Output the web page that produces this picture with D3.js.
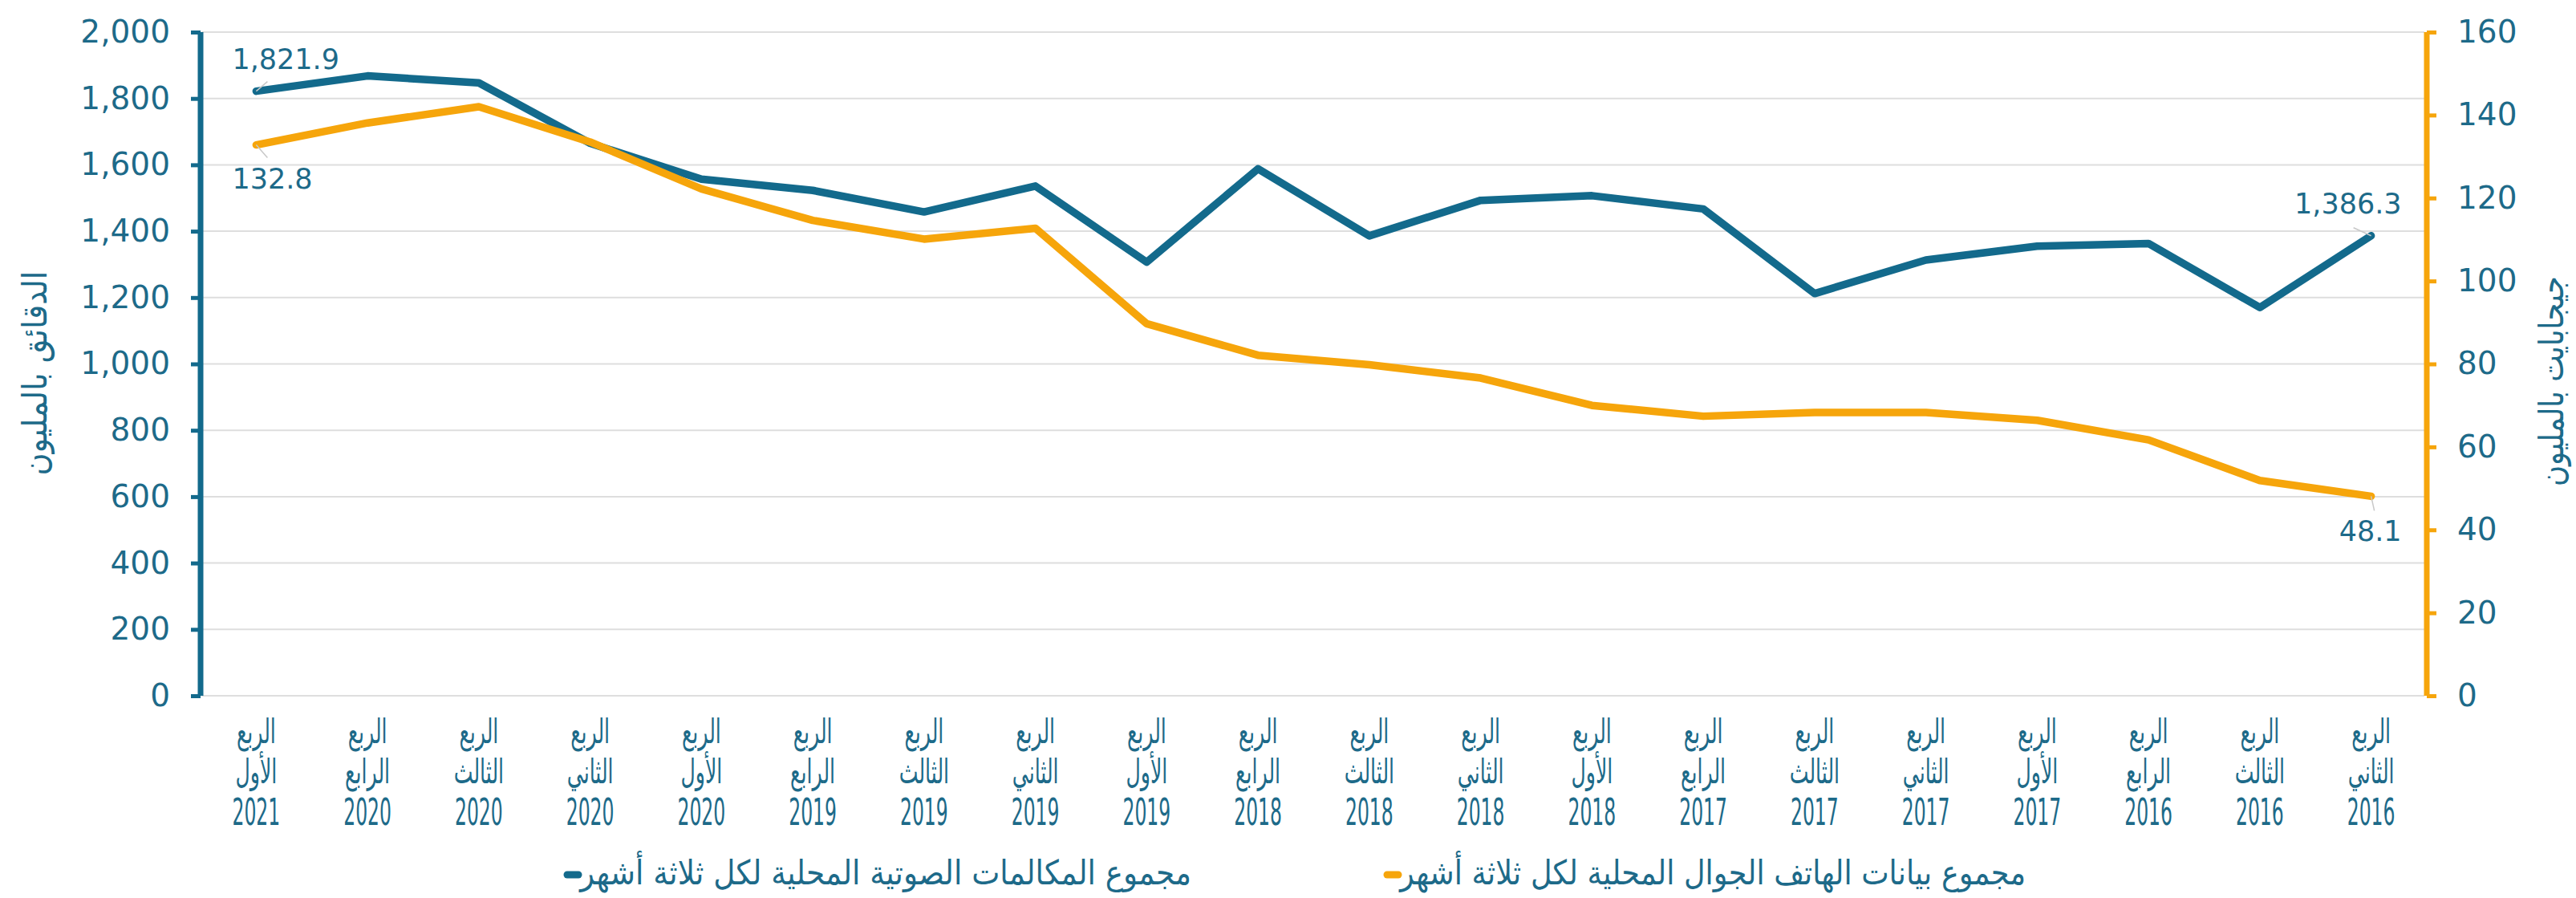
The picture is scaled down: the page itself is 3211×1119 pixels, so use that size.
<!DOCTYPE html>
<html>
<head>
<meta charset="utf-8">
<script src="https://cdn.jsdelivr.net/npm/d3@7"></script>
<style>
  body { margin: 0; background: #fff; }
  text { font-family: "DejaVu Sans", sans-serif; fill: #1d6a89; }
</style>
</head>
<body>
<div id="container"></div>
<script>
// البيانات
var quarterNames = ["الأول", "الرابع", "الثالث", "الثاني", "الأول", "الرابع", "الثالث", "الثاني", "الأول", "الرابع",
  "الثالث", "الثاني", "الأول", "الرابع", "الثالث", "الثاني", "الأول", "الرابع", "الثالث", "الثاني"];
var years = ["2021", "2020", "2020", "2020", "2020", "2019", "2019", "2019", "2019", "2018",
  "2018", "2018", "2018", "2017", "2017", "2017", "2017", "2016", "2016", "2016"];
var voiceMinutes = [1821.9, 1868, 1847, 1665, 1557, 1523, 1458, 1536, 1307, 1588,
  1386, 1493, 1507, 1467, 1212, 1313, 1355, 1363, 1170, 1386.3];
var mobileData = [132.8, 138.1, 142.0, 133.5, 122.2, 114.6, 110.1, 112.7, 89.7, 82.1,
  79.8, 76.6, 70.0, 67.4, 68.3, 68.3, 66.4, 61.7, 51.9, 48.1];
var leftTicks = [0, 200, 400, 600, 800, 1000, 1200, 1400, 1600, 1800, 2000];
var rightTicks = [0, 20, 40, 60, 80, 100, 120, 140, 160];
var leftTitle = "الدقائق بالمليون";
var rightTitle = "جيجابايت بالمليون";
var legendVoice = "مجموع المكالمات الصوتية المحلية لكل ثلاثة أشهر";
var legendData = "مجموع بيانات الهاتف الجوال المحلية لكل ثلاثة أشهر";

var width = 3211;
var height = 1119;
var blue = "#136a8c";
var orange = "#f6a50b";

var svg = d3.select("#container").append("svg")
  .attr("width", width)
  .attr("height", height);

var idx = d3.range(voiceMinutes.length);
var x = d3.scaleBand().domain(idx).range([250, 3025]);
var cx = function(i) { return x(i) + x.bandwidth() / 2; };
var yL = d3.scaleLinear().domain([0, 2000]).range([867, 40]);
var yR = d3.scaleLinear().domain([0, 160]).range([867, 40]);

// خطوط الشبكة
svg.append("g").selectAll("line").data(leftTicks).enter().append("line")
  .attr("x1", 252).attr("x2", 3022)
  .attr("y1", function(d) { return yL(d); })
  .attr("y2", function(d) { return yL(d); })
  .attr("stroke", "#dedede").attr("stroke-width", 2);

// المحور الأيسر
var axL = svg.append("g").attr("transform", "translate(250,0)")
  .call(d3.axisLeft(yL).tickValues(leftTicks).tickSize(12).tickPadding(26).tickFormat(d3.format(",")));
axL.select(".domain").attr("stroke", blue).attr("stroke-width", 7).attr("d", "M0,40V867");
axL.selectAll(".tick line").attr("stroke", blue).attr("stroke-width", 5);
axL.selectAll(".tick text").attr("font-size", 39).attr("fill", "#1d6a89");

// المحور الأيمن
var axR = svg.append("g").attr("transform", "translate(3025,0)")
  .call(d3.axisRight(yR).tickValues(rightTicks).tickSize(12).tickPadding(26));
axR.select(".domain").attr("stroke", orange).attr("stroke-width", 7).attr("d", "M0,40V867");
axR.selectAll(".tick line").attr("stroke", orange).attr("stroke-width", 5);
axR.selectAll(".tick text").attr("font-size", 39).attr("fill", "#1d6a89");

// عناوين المحاور
svg.append("text")
  .attr("transform", "translate(58,465) rotate(-90)")
  .attr("text-anchor", "middle")
  .attr("font-size", 42)
  .attr("textLength", 255).attr("lengthAdjust", "spacingAndGlyphs")
  .text(leftTitle);
svg.append("text")
  .attr("transform", "translate(3195,475) rotate(-90)")
  .attr("text-anchor", "middle")
  .attr("font-size", 42)
  .attr("textLength", 262).attr("lengthAdjust", "spacingAndGlyphs")
  .text(rightTitle);

// تسميات المحور الأفقي
var xl = svg.append("g").selectAll("g").data(idx).enter().append("g");
xl.append("text")
  .attr("transform", function(i) { return "translate(" + cx(i) + ",926) scale(0.6,1)"; })
  .attr("text-anchor", "middle").attr("font-size", 42)
  .text("الربع");
xl.append("text")
  .attr("transform", function(i) { return "translate(" + cx(i) + ",976) scale(0.6,1)"; })
  .attr("text-anchor", "middle").attr("font-size", 42)
  .text(function(i) { return quarterNames[i]; });
xl.append("text")
  .attr("transform", function(i) { return "translate(" + cx(i) + ",1028) scale(0.5,1)"; })
  .attr("text-anchor", "middle").attr("font-size", 47)
  .text(function(i) { return years[i]; });

// الخطوط
var lineL = d3.line().x(function(d, i) { return cx(i); }).y(function(d) { return yL(d); });
var lineR = d3.line().x(function(d, i) { return cx(i); }).y(function(d) { return yR(d); });

svg.append("path").datum(voiceMinutes)
  .attr("d", lineL).attr("fill", "none")
  .attr("stroke", blue).attr("stroke-width", 9.5)
  .attr("stroke-linejoin", "round").attr("stroke-linecap", "round");
svg.append("path").datum(mobileData)
  .attr("d", lineR).attr("fill", "none")
  .attr("stroke", orange).attr("stroke-width", 9.5)
  .attr("stroke-linejoin", "round").attr("stroke-linecap", "round");

// تسميات البيانات
var n = voiceMinutes.length - 1;
var fmt = d3.format(",.1f");
var labels = [
  { v: voiceMinutes[0], px: cx(0), py: yL(voiceMinutes[0]), dx: -30, dy: -28, anchor: "start", lx: 14, ly: -12 },
  { v: mobileData[0], px: cx(0), py: yR(mobileData[0]), dx: -30, dy: 54, anchor: "start", lx: 14, ly: 16 },
  { v: voiceMinutes[n], px: cx(n), py: yL(voiceMinutes[n]), dx: 38, dy: -28, anchor: "end", lx: -22, ly: -10 },
  { v: mobileData[n], px: cx(n), py: yR(mobileData[n]), dx: 38, dy: 56, anchor: "end", lx: 4, ly: 18 }
];
svg.append("g").selectAll("line").data(labels).enter().append("line")
  .attr("x1", function(d) { return d.px; }).attr("y1", function(d) { return d.py; })
  .attr("x2", function(d) { return d.px + d.lx; }).attr("y2", function(d) { return d.py + d.ly; })
  .attr("stroke", "#c8c8c8").attr("stroke-width", 1.5);
svg.append("g").selectAll("text").data(labels).enter().append("text")
  .attr("x", function(d) { return d.px + d.dx; })
  .attr("y", function(d) { return d.py + d.dy; })
  .attr("text-anchor", function(d) { return d.anchor; })
  .attr("font-size", 35)
  .text(function(d) { return fmt(d.v); });

// وسيلة الإيضاح
var legend = [
  { text: legendVoice, color: blue, x: 703, w: 762 },
  { text: legendData, color: orange, x: 1725, w: 780 }
];
var lg = svg.append("g").selectAll("g").data(legend).enter().append("g");
lg.append("line")
  .attr("x1", function(d) { return d.x + 4; }).attr("x2", function(d) { return d.x + 18; })
  .attr("y1", 1090).attr("y2", 1090)
  .attr("stroke", function(d) { return d.color; })
  .attr("stroke-width", 9).attr("stroke-linecap", "round");
lg.append("text")
  .attr("x", function(d) { return d.x + 20 + d.w / 2; })
  .attr("y", 1102)
  .attr("text-anchor", "middle")
  .attr("font-size", 42)
  .attr("textLength", function(d) { return d.w; })
  .attr("lengthAdjust", "spacingAndGlyphs")
  .text(function(d) { return d.text; });
</script>
</body>
</html>
